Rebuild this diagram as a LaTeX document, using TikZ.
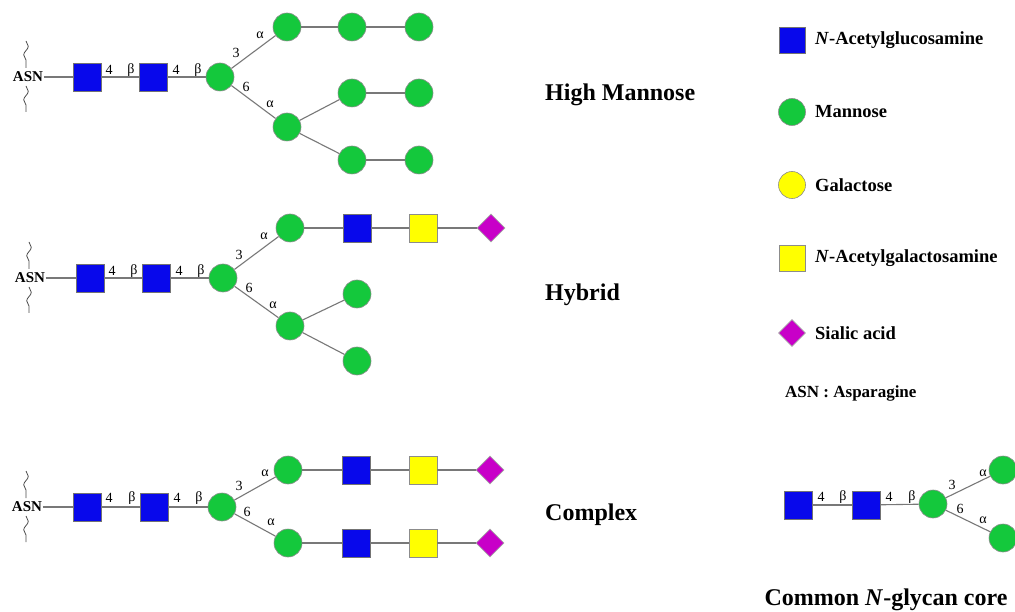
\documentclass[tikz,border=0pt]{standalone}
\usepackage{fontspec}
\setmainfont{Liberation Serif}
\usetikzlibrary{shapes.geometric,decorations.pathmorphing}
\definecolor{gnblue}{RGB}{8,8,235}
\definecolor{mgreen}{RGB}{20,200,60}
\definecolor{gyellow}{RGB}{255,255,0}
\definecolor{spurple}{RGB}{200,0,200}
\definecolor{linkgray}{RGB}{120,120,120}
\tikzset{
  glc/.style={rectangle, draw=black!55, fill=gnblue, minimum size=28pt, inner sep=0pt, line width=0.6pt},
  man/.style={circle, draw=black!45, fill=mgreen, minimum size=28pt, inner sep=0pt, line width=0.6pt},
  galc/.style={circle, draw=black!45, fill=gyellow, minimum size=27pt, inner sep=0pt, line width=0.6pt},
  galnac/.style={rectangle, draw=black!45, fill=gyellow, minimum size=28pt, inner sep=0pt, line width=0.6pt},
  sia/.style={diamond, draw=black!35, fill=spurple, minimum size=28pt, inner sep=0pt, aspect=1, line width=0.6pt},
  link/.style={draw=linkgray, line width=1.1pt},
  lbl/.style={font=\fontsize{14}{14}\selectfont, inner sep=0pt},
  asn/.style={font=\fontsize{15}{15}\selectfont\bfseries, inner sep=0.5pt},
  wav/.style={draw=black!70, line width=0.8pt, decorate, decoration={snake, amplitude=2.3pt, segment length=17pt}},
  title/.style={font=\fontsize{24}{24}\selectfont\bfseries, inner sep=0pt, anchor=west},
  legtext/.style={font=\fontsize{18.5}{18.5}\selectfont\bfseries, inner sep=0pt, anchor=west},
}
\begin{document}
\begin{tikzpicture}[x=1pt,y=-1pt]
\useasboundingbox[fill=white] (0,0) rectangle (1015,612);

% ---------------- High Mannose ----------------
\node[asn] (asnA) at (28,77) {ASN};
\draw[wav] (26,41) -- (26,68);
\draw[wav] (26,86) -- (26,112);
\node[glc] (h1) at (87,77) {};
\node[glc] (h2) at (153,77) {};
\node[man] (h3) at (220,77) {};
\node[man] (h4) at (287,27) {};
\node[man] (h5) at (352,27) {};
\node[man] (h6) at (419,27) {};
\node[man] (h7) at (287,127) {};
\node[man] (h8) at (352,93) {};
\node[man] (h9) at (419,93) {};
\node[man] (h10) at (352,160) {};
\node[man] (h11) at (419,160) {};
\draw[link] (asnA) -- (h1);
\draw[link] (h1) -- (h2);
\draw[link] (h2) -- (h3);
\draw[link] (h3) -- (h4);
\draw[link] (h4) -- (h5);
\draw[link] (h5) -- (h6);
\draw[link] (h3) -- (h7);
\draw[link] (h7) -- (h8);
\draw[link] (h8) -- (h9);
\draw[link] (h7) -- (h10);
\draw[link] (h10) -- (h11);
\node[lbl] (hl1) at (109,70) {4};
\node[lbl] (hl2) at (131,70) {β};
\node[lbl] (hl3) at (176,70) {4};
\node[lbl] (hl4) at (198,70) {β};
\node[lbl] (hl5) at (236,53) {3};
\node[lbl] (hl6) at (246,87) {6};
\node[lbl] (hl7) at (260,35) {α};
\node[lbl] (hl8) at (270,104) {α};
\node[title] (tHM) at (545,95) {High Mannose};

% ---------------- Hybrid ----------------
\node[asn] (asnB) at (30,278) {ASN};
\draw[wav] (29,242) -- (29,269);
\draw[wav] (29,287) -- (29,313);
\node[glc] (y1) at (90,278) {};
\node[glc] (y2) at (156,278) {};
\node[man] (y3) at (223,278) {};
\node[man] (y4) at (290,228) {};
\node[glc] (y5) at (357,228) {};
\node[galnac] (y6) at (423,228) {};
\node[sia] (y7) at (491,228) {};
\node[man] (y8) at (290,326) {};
\node[man] (y9) at (357,294) {};
\node[man] (y10) at (357,361) {};
\draw[link] (asnB) -- (y1);
\draw[link] (y1) -- (y2);
\draw[link] (y2) -- (y3);
\draw[link] (y3) -- (y4);
\draw[link] (y4) -- (y5);
\draw[link] (y5) -- (y6);
\draw[link] (y6) -- (y7);
\draw[link] (y3) -- (y8);
\draw[link] (y8) -- (y9);
\draw[link] (y8) -- (y10);
\node[lbl] (yl1) at (112,271) {4};
\node[lbl] (yl2) at (134,271) {β};
\node[lbl] (yl3) at (179,271) {4};
\node[lbl] (yl4) at (201,271) {β};
\node[lbl] (yl5) at (239,255) {3};
\node[lbl] (yl6) at (249,288) {6};
\node[lbl] (yl7) at (264,236) {α};
\node[lbl] (yl8) at (273,305) {α};
\node[title] (tHY) at (545,295) {Hybrid};

% ---------------- Complex ----------------
\node[asn] (asnC) at (27,507) {ASN};
\draw[wav] (26,471) -- (26,498);
\draw[wav] (26,516) -- (26,542);
\node[glc] (c1) at (87,507) {};
\node[glc] (c2) at (154,507) {};
\node[man] (c3) at (222,507) {};
\node[man] (c4) at (288,470) {};
\node[glc] (c5) at (356,470) {};
\node[galnac] (c6) at (423,470) {};
\node[sia] (c7) at (490,470) {};
\node[man] (c8) at (288,543) {};
\node[glc] (c9) at (356,543) {};
\node[galnac] (c10) at (423,543) {};
\node[sia] (c11) at (490,543) {};
\draw[link] (asnC) -- (c1);
\draw[link] (c1) -- (c2);
\draw[link] (c2) -- (c3);
\draw[link] (c3) -- (c4);
\draw[link] (c4) -- (c5);
\draw[link] (c5) -- (c6);
\draw[link] (c6) -- (c7);
\draw[link] (c3) -- (c8);
\draw[link] (c8) -- (c9);
\draw[link] (c9) -- (c10);
\draw[link] (c10) -- (c11);
\node[lbl] (cl1) at (109,498) {4};
\node[lbl] (cl2) at (132,498) {β};
\node[lbl] (cl3) at (177,498) {4};
\node[lbl] (cl4) at (199,498) {β};
\node[lbl] (cl5) at (239,486) {3};
\node[lbl] (cl6) at (247,512) {6};
\node[lbl] (cl7) at (265,473) {α};
\node[lbl] (cl8) at (271,522) {α};
\node[title] (tCX) at (545,515) {Complex};

% ---------------- Legend ----------------
\node[glc, minimum size=26pt] (lg1) at (792,40) {};
\node[legtext] (lt1) at (815,40) {\textit{N}-Acetylglucosamine};
\node[man, minimum size=27pt] (lg2) at (792,112) {};
\node[legtext] (lt2) at (815,112) {Mannose};
\node[galc] (lg3) at (792,185) {};
\node[legtext] (lt3) at (815,185) {Galactose};
\node[galnac, minimum size=26pt] (lg4) at (792,258) {};
\node[legtext] (lt4) at (815,258) {\textit{N}-Acetylgalactosamine};
\node[sia, minimum size=27pt] (lg5) at (792,333) {};
\node[legtext] (lt5) at (815,333) {Sialic acid};
\node[legtext, font=\fontsize{17}{17}\selectfont\bfseries] (lt6) at (785,393) {ASN : Asparagine};

% ---------------- Common core ----------------
\node[glc] (k1) at (798,505) {};
\node[glc] (k2) at (866,505) {};
\node[man] (k3) at (933,504) {};
\node[man] (k4) at (1003,470) {};
\node[man] (k5) at (1003,538) {};
\draw[link] (k1) -- (k2);
\draw[link] (k2) -- (k3);
\draw[link] (k3) -- (k4);
\draw[link] (k3) -- (k5);
\node[lbl] (kl1) at (821,497) {4};
\node[lbl] (kl2) at (843,497) {β};
\node[lbl] (kl3) at (889,497) {4};
\node[lbl] (kl4) at (912,497) {β};
\node[lbl] (kl5) at (952,485) {3};
\node[lbl] (kl6) at (960,509) {6};
\node[lbl] (kl7) at (983,473) {α};
\node[lbl] (kl8) at (983,520) {α};
\node[font=\fontsize{24}{24}\selectfont\bfseries, inner sep=0pt] (tCore) at (886,600) {Common \textit{N}-glycan core};
\end{tikzpicture}
\end{document}
